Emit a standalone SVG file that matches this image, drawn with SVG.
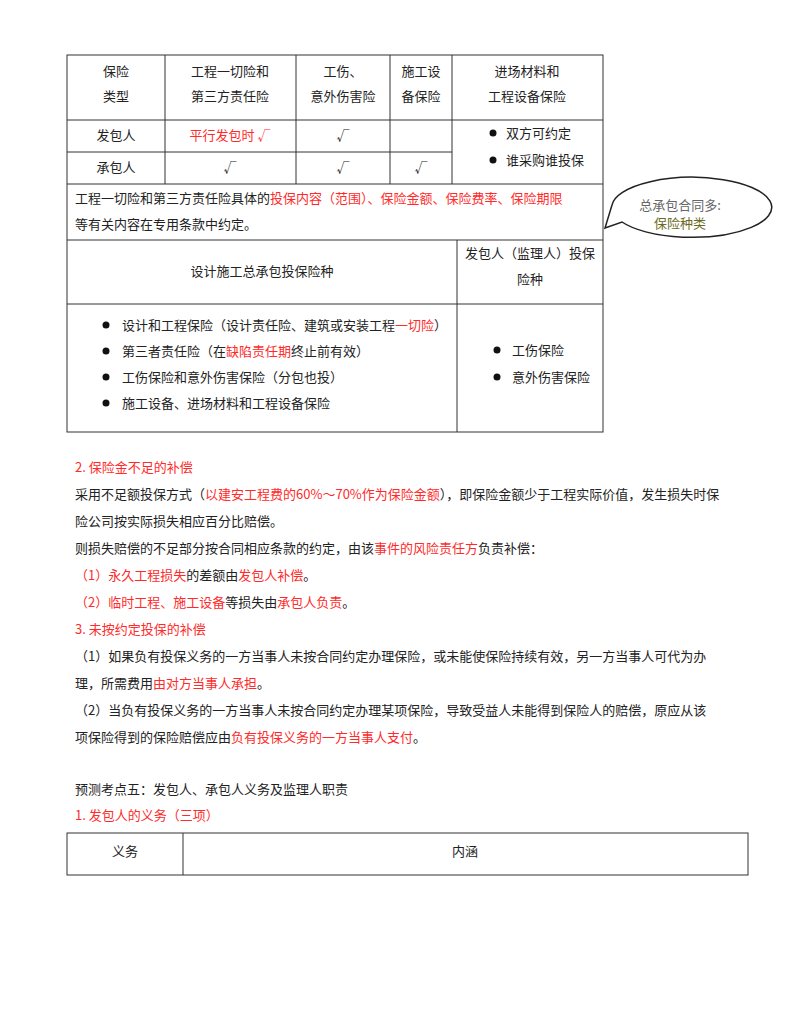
<svg xmlns="http://www.w3.org/2000/svg" width="800" height="1035" viewBox="0 0 800 1035">
<style>
text{font-family:"Noto Sans CJK SC","Liberation Serif",serif;font-size:13px;fill:#222}
.r{fill:#ff2a2a}
.c{text-anchor:middle}
.ln{stroke:#333;stroke-width:1;fill:none}
</style>
<rect width="800" height="1035" fill="#fff"/>
<g id="table1">
<rect class="ln" x="67" y="55" width="536" height="377"/>
<path class="ln" d="M67 120H603M67 152H452M67 184H603M67 240H603M67 304H603M165 55V184M296 55V184M390 55V184M452 55V184M457 240V432"/>
<text class="c" x="116" y="76">保险</text><text class="c" x="116" y="101">类型</text>
<text class="c" x="230" y="76">工程一切险和</text><text class="c" x="230" y="101">第三方责任险</text>
<text class="c" x="343" y="76">工伤、</text><text class="c" x="343" y="101">意外伤害险</text>
<text class="c" x="421" y="76">施工设</text><text class="c" x="421" y="101">备保险</text>
<text class="c" x="527" y="76">进场材料和</text><text class="c" x="527" y="101">工程设备保险</text>
<text class="c" x="116" y="140">发包人</text><text class="c r" x="230" y="140">平行发包时 √</text><text class="c" x="343" y="140">√</text>
<text class="c" x="116" y="172">承包人</text><text class="c" x="230" y="172">√</text><text class="c" x="343" y="172">√</text><text class="c" x="421" y="172">√</text>
<circle cx="493" cy="133" r="3.5" fill="#111"/><text x="506" y="138">双方可约定</text>
<circle cx="493" cy="160" r="3.5" fill="#111"/><text x="506" y="165">谁采购谁投保</text>
<text x="75" y="203">工程一切险和第三方责任险具体的<tspan class="r">投保内容（范围）、保险金额、保险费率、保险期限</tspan></text>
<text x="75" y="229">等有关内容在专用条款中约定。</text>
<text class="c" x="262" y="276">设计施工总承包投保险种</text>
<text class="c" x="530" y="258">发包人（监理人）投保</text><text class="c" x="530" y="284">险种</text>
<circle cx="106" cy="325" r="3.5" fill="#111"/><text x="122" y="330">设计和工程保险（设计责任险、建筑或安装工程<tspan class="r">一切险</tspan>）</text>
<circle cx="106" cy="351" r="3.5" fill="#111"/><text x="122" y="356">第三者责任险（在<tspan class="r">缺陷责任期</tspan>终止前有效）</text>
<circle cx="106" cy="377" r="3.5" fill="#111"/><text x="122" y="382">工伤保险和意外伤害保险（分包也投）</text>
<circle cx="106" cy="403" r="3.5" fill="#111"/><text x="122" y="408">施工设备、进场材料和工程设备保险</text>
<circle cx="497" cy="350" r="3.5" fill="#111"/><text x="512" y="355">工伤保险</text>
<circle cx="497" cy="377" r="3.5" fill="#111"/><text x="512" y="382">意外伤害保险</text>
</g>
<g id="callout">
<path d="M605 228 L622 222 A80 30 0 1 0 612 205 Z" fill="#fff" stroke="#222" stroke-width="1.5"/>
<text class="c" x="680" y="210" style="fill:#666">总承包合同多:</text>
<text class="c" x="680" y="228" style="fill:#6b6b1e">保险种类</text>
</g>
<g id="text">
<text class="r" x="75" y="472">2. 保险金不足的补偿</text>
<text x="75" y="499">采用不足额投保方式（<tspan class="r">以建安工程费的60%～70%作为保险金额</tspan>），即保险金额少于工程实际价值，发生损失时保</text>
<text x="75" y="526">险公司按实际损失相应百分比赔偿。</text>
<text x="75" y="553">则损失赔偿的不足部分按合同相应条款的约定，由该<tspan class="r">事件的风险责任方</tspan>负责补偿：</text>
<text x="75" y="580"><tspan class="r">（1）永久工程损失</tspan>的差额由<tspan class="r">发包人补偿</tspan>。</text>
<text x="75" y="607"><tspan class="r">（2）临时工程、施工设备</tspan>等损失由<tspan class="r">承包人负责</tspan>。</text>
<text class="r" x="75" y="634">3. 未按约定投保的补偿</text>
<text x="75" y="661">（1）如果负有投保义务的一方当事人未按合同约定办理保险，或未能使保险持续有效，另一方当事人可代为办</text>
<text x="75" y="688">理，所需费用<tspan class="r">由对方当事人承担</tspan>。</text>
<text x="75" y="715">（2）当负有投保义务的一方当事人未按合同约定办理某项保险，导致受益人未能得到保险人的赔偿，原应从该</text>
<text x="75" y="742">项保险得到的保险赔偿应由<tspan class="r">负有投保义务的一方当事人支付</tspan>。</text>
<text x="75" y="794">预测考点五：发包人、承包人义务及监理人职责</text>
<text class="r" x="75" y="820">1. 发包人的义务（三项）</text>
</g>
<g id="table2">
<rect class="ln" x="67" y="833" width="681" height="42"/>
<path class="ln" d="M183 833V875"/>
<text class="c" x="125" y="856">义务</text>
<text class="c" x="465" y="856">内涵</text>
</g>
</svg>
